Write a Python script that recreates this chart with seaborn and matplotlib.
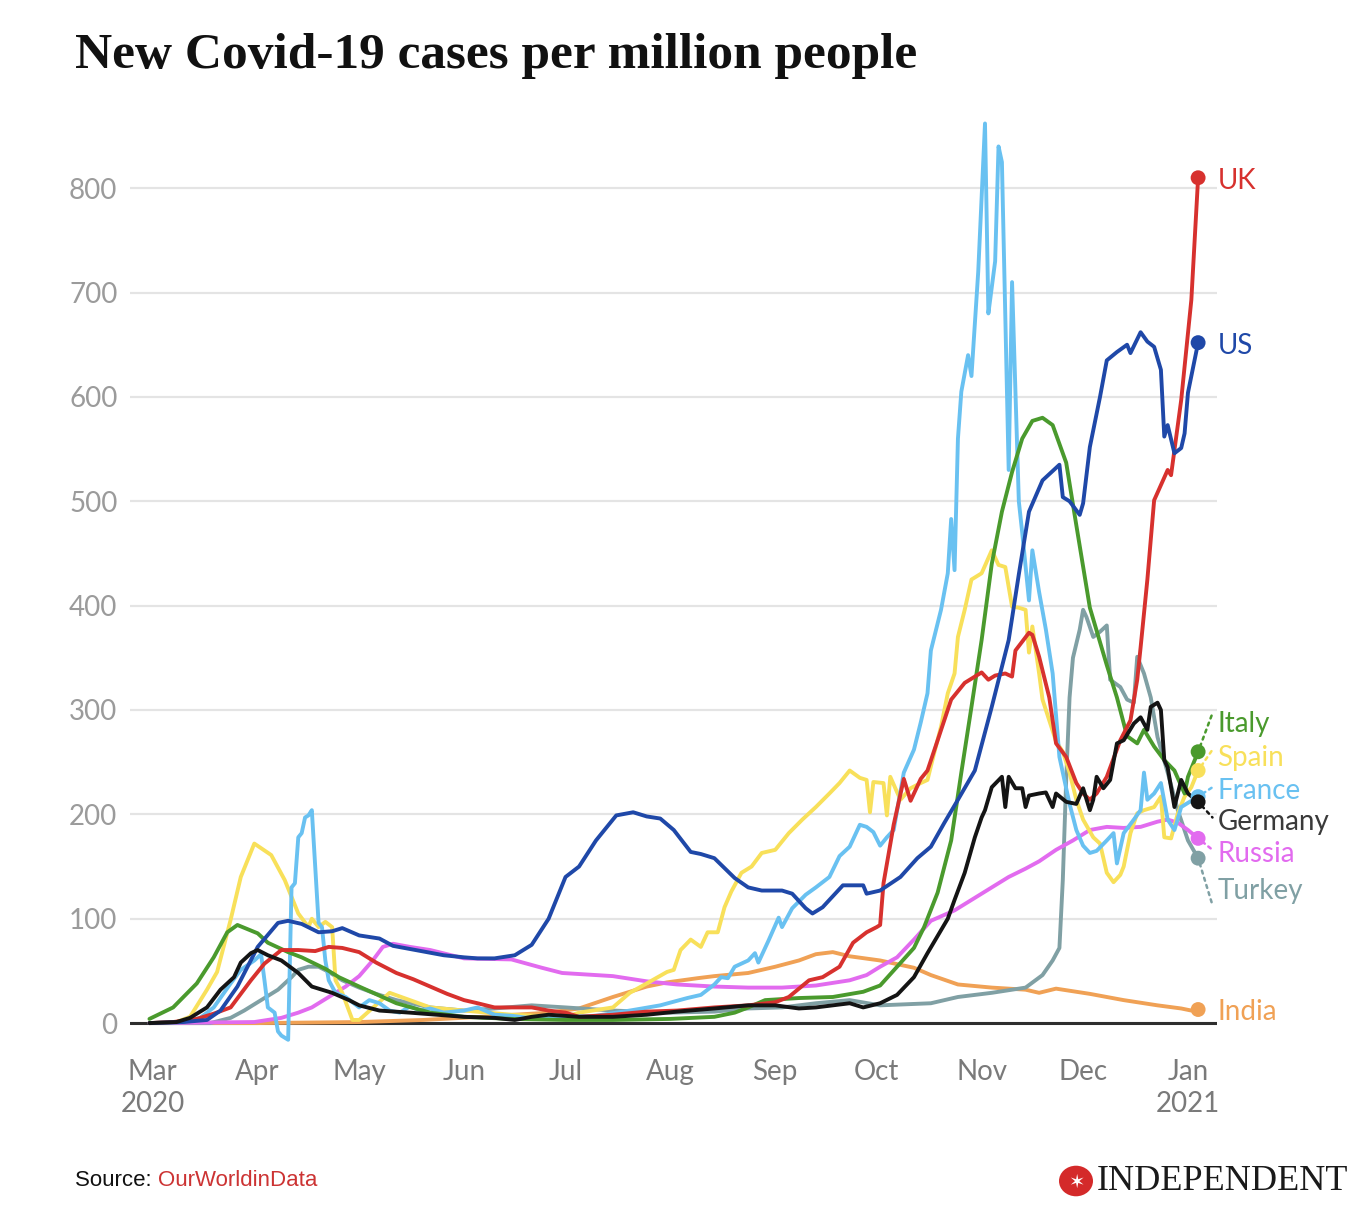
import matplotlib
matplotlib.use("Agg")
import matplotlib.pyplot as plt
import matplotlib.patches as mpatches
import seaborn as sns
import pandas as pd
import numpy as np

# ---------------- data ----------------
uk_dates = ["02-29","03-07","03-14","03-19","03-24","03-27","03-30","04-03","04-08","04-13","04-18","04-22","04-26","05-01","05-06","05-12","05-17","05-22","05-27","06-01","06-05","06-10","06-15","06-21","06-26","07-01","07-05","07-10","07-15","07-25","08-03","08-14","08-24","09-01","09-05","09-11","09-15","09-20","09-24","09-28","10-01","10-02","10-03","10-06","10-09","10-11","10-14","10-16","10-19","10-23","10-27","11-01","11-03","11-05","11-08","11-10","11-11","11-15","11-16","11-18","11-21","11-23","11-26","11-29","12-01","12-03","12-05","12-08","12-12","12-15","12-17","12-18","12-20","12-22","12-26","12-27","12-28","12-30","01-02","01-04"]
uk_vals = [0,1,4,9,15,28,41,57,70,70,69,73,72,68,58,48,42,35,28,22,19,15,15,15,12,10,6,7,8,11,12,15,17,20,25,41,44,54,77,87,92,94,134,190,234,213,234,242,271,310,326,336,329,333,335,332,357,374,372,351,312,268,255,230,220,214,220,236,271,290,329,360,425,501,530,525,549,597,693,810]

us_dates = ["02-29","03-10","03-17","03-21","03-26","04-01","04-07","04-10","04-14","04-19","04-23","04-26","05-01","05-07","05-11","05-16","05-21","05-26","06-01","06-05","06-10","06-16","06-21","06-26","07-01","07-05","07-10","07-16","07-21","07-25","07-29","08-02","08-07","08-10","08-14","08-20","08-24","08-28","09-03","09-06","09-10","09-12","09-15","09-21","09-27","09-28","10-02","10-08","10-13","10-17","10-21","10-25","10-30","11-04","11-09","11-12","11-15","11-19","11-24","11-25","11-27","11-30","12-01","12-03","12-06","12-08","12-11","12-14","12-15","12-18","12-20","12-22","12-24","12-25","12-26","12-28","12-30","12-31","01-01","01-04"]
us_vals = [0,1,3,12,35,73,96,98,95,87,88,91,84,81,74,71,68,65,63,62,62,65,75,100,140,150,175,199,202,198,196,185,164,162,158,139,130,127,127,124,110,105,111,132,132,124,127,140,158,169,192,214,242,303,367,430,490,520,535,504,500,487,498,552,600,635,643,650,642,662,653,648,626,562,573,546,551,565,604,652]

italy_dates = ["02-29","03-07","03-14","03-19","03-23","03-26","04-01","04-04","04-10","04-14","04-21","04-25","05-01","05-12","05-22","06-01","06-15","07-01","07-15","08-01","08-14","08-20","08-24","08-29","09-08","09-18","09-27","10-02","10-07","10-12","10-15","10-19","10-23","10-26","10-29","11-01","11-04","11-07","11-10","11-13","11-16","11-19","11-22","11-26","11-29","12-03","12-08","12-11","12-14","12-17","12-19","12-22","12-25","12-28","12-31","01-01","01-04"]
italy_vals = [4,15,38,63,87,94,86,77,68,63,52,44,35,19,10,6,4,3,3,4,6,10,15,22,24,25,30,36,54,72,92,125,175,240,303,367,440,490,528,560,577,580,573,537,477,398,343,312,275,268,281,265,252,242,220,236,260]

spain_dates = ["02-29","03-08","03-12","03-17","03-20","03-24","03-27","03-31","04-05","04-09","04-13","04-16","04-17","04-19","04-21","04-23","04-24","04-26","04-29","05-01","05-10","05-16","05-22","06-01","06-15","07-01","07-05","07-15","07-20","07-25","07-31","08-02","08-04","08-07","08-10","08-12","08-15","08-17","08-19","08-22","08-25","08-28","09-01","09-05","09-09","09-13","09-17","09-20","09-23","09-26","09-28","09-29","09-30","10-03","10-04","10-05","10-08","10-11","10-14","10-16","10-18","10-20","10-22","10-24","10-25","10-27","10-29","11-01","11-04","11-06","11-08","11-10","11-12","11-14","11-15","11-16","11-18","11-19","11-21","11-23","11-25","11-27","11-29","12-01","12-04","12-06","12-08","12-10","12-12","12-13","12-15","12-17","12-19","12-22","12-24","12-25","12-27","12-29","12-31","01-02","01-04"]
spain_vals = [0,1,6,32,49,99,140,172,161,137,105,92,100,92,97,92,41,29,3,3,29,22,15,12,8,6,10,15,29,38,49,51,70,80,73,87,87,111,126,144,150,163,166,182,195,207,220,230,242,235,233,202,231,230,199,236,214,225,230,233,259,284,316,335,370,396,425,431,453,439,437,399,398,396,355,380,335,310,290,270,260,240,214,195,178,172,144,135,142,150,182,201,204,207,217,178,177,201,217,226,242]

france_dates = ["02-29","03-10","03-15","03-19","03-24","03-27","03-31","04-02","04-03","04-04","04-06","04-07","04-08","04-09","04-10","04-11","04-12","04-13","04-14","04-15","04-16","04-17","04-18","04-19","04-20","04-21","04-22","04-24","04-27","05-01","05-04","05-07","05-10","05-13","05-16","05-19","05-22","05-26","06-01","06-05","06-10","06-15","06-20","07-01","07-10","07-20","07-29","08-06","08-10","08-14","08-16","08-18","08-20","08-24","08-26","08-27","08-30","09-02","09-03","09-06","09-10","09-13","09-17","09-20","09-23","09-26","09-28","09-30","10-02","10-04","10-06","10-09","10-12","10-14","10-16","10-17","10-20","10-22","10-23","10-24","10-25","10-26","10-28","10-29","10-31","11-02","11-03","11-04","11-05","11-06","11-07","11-09","11-10","11-12","11-13","11-15","11-16","11-18","11-20","11-22","11-24","11-27","11-29","12-01","12-03","12-05","12-08","12-10","12-11","12-13","12-16","12-18","12-19","12-20","12-22","12-24","12-26","12-28","12-30","01-01","01-04"]
france_vals = [0,1,5,15,38,51,60,66,41,15,10,-8,-12,-14,-16,130,134,178,182,197,199,204,150,96,92,60,41,29,25,15,22,19,12,10,16,12,14,10,12,15,8,7,5,6,7,12,17,24,27,37,44,43,54,60,67,58,79,101,92,110,123,130,140,160,169,190,188,183,170,178,185,240,262,288,316,357,396,431,483,434,560,605,640,620,720,862,680,705,730,840,825,530,710,500,470,405,453,413,377,335,255,210,185,170,163,165,175,182,153,182,195,204,240,214,220,230,195,185,207,211,217]

germany_dates = ["02-29","03-08","03-12","03-17","03-21","03-25","03-27","03-30","04-01","04-04","04-08","04-13","04-17","04-23","04-28","05-01","05-07","05-16","06-01","06-10","06-16","06-21","06-26","07-05","07-15","07-25","08-03","08-14","08-24","09-01","09-08","09-13","09-23","09-27","10-02","10-07","10-12","10-16","10-20","10-22","10-24","10-27","10-30","11-01","11-02","11-04","11-07","11-08","11-09","11-11","11-13","11-14","11-15","11-18","11-20","11-22","11-23","11-26","11-29","12-01","12-03","12-04","12-05","12-07","12-09","12-11","12-13","12-16","12-18","12-20","12-21","12-23","12-24","12-25","12-26","12-28","12-30","01-01","01-04"]
germany_vals = [0,1,5,15,32,44,58,67,70,65,60,48,35,29,22,17,12,10,6,5,3,6,8,6,6,8,11,14,17,17,14,15,19,15,19,27,44,67,89,100,118,144,178,197,204,226,236,207,236,225,225,207,218,220,221,207,220,212,210,225,204,214,236,225,233,268,271,287,293,281,303,307,300,252,245,207,233,220,212]

russia_dates = ["02-29","03-31","04-08","04-13","04-17","04-22","04-27","05-01","05-05","05-08","05-11","05-16","05-22","06-01","06-15","06-24","06-30","07-15","07-25","08-03","08-14","08-24","09-03","09-13","09-23","09-28","10-02","10-07","10-12","10-17","10-24","10-28","11-04","11-09","11-14","11-18","11-23","11-28","12-03","12-08","12-13","12-18","12-23","12-26","12-29","01-01","01-04"]
russia_vals = [0,1,5,10,15,25,35,45,60,73,76,73,70,62,61,53,48,45,40,37,35,34,34,36,41,46,54,63,80,98,108,116,130,140,148,155,166,175,185,188,187,188,193,195,192,185,177]

turkey_dates = ["02-29","03-18","03-24","03-28","04-03","04-07","04-11","04-13","04-16","04-19","04-22","04-26","05-01","05-06","05-12","05-22","06-01","06-10","06-21","07-01","07-15","08-01","08-14","08-24","09-03","09-13","09-23","10-02","10-17","10-25","11-04","11-14","11-19","11-22","11-24","11-25","11-26","11-27","11-28","11-30","12-01","12-02","12-04","12-06","12-08","12-09","12-12","12-14","12-16","12-17","12-19","12-21","12-23","12-26","12-29","01-01","01-04"]
turkey_vals = [0,0,5,12,24,32,44,51,54,54,49,41,34,28,22,15,12,14,17,15,12,10,11,14,15,19,22,17,19,25,29,34,46,60,72,137,233,312,350,377,396,389,370,375,381,329,322,310,307,351,335,312,274,240,204,175,158]

india_dates = ["02-29","04-01","05-01","05-20","06-06","06-26","07-05","07-15","07-25","07-31","08-09","08-14","08-24","09-01","09-08","09-13","09-18","09-23","10-02","10-12","10-17","10-25","11-04","11-14","11-18","11-23","12-03","12-13","12-23","12-30","01-02","01-04"]
india_vals = [0,0,1,3,6,10,14,25,35,39,43,45,48,54,60,66,68,64,60,53,46,37,34,32,29,33,28,22,17,14,12,13]

countries = ["India","Turkey","Russia","Spain","France","Italy","UK","US","Germany"]
series = {
    "UK": (uk_dates, uk_vals), "US": (us_dates, us_vals), "Italy": (italy_dates, italy_vals),
    "Spain": (spain_dates, spain_vals), "France": (france_dates, france_vals),
    "Germany": (germany_dates, germany_vals), "Russia": (russia_dates, russia_vals),
    "Turkey": (turkey_dates, turkey_vals), "India": (india_dates, india_vals),
}
colors = {"UK": "#d7312e", "US": "#1f48a8", "Italy": "#4a9a2d", "Spain": "#f8e05a",
          "France": "#69c1f1", "Germany": "#141414", "Russia": "#e26bef",
          "Turkey": "#80a0a4", "India": "#f0a155"}
label_colors = dict(colors, Germany="#3a3a3a")
# label vertical positions (value units), and where the dotted leader ends
label_y = {"UK": 807, "US": 649, "Italy": 287, "Spain": 254, "France": 222,
           "Germany": 193, "Russia": 162, "Turkey": 127, "India": 11}
leader_end = {"Italy": 297, "Spain": 262, "France": 226, "Germany": 197,
              "Russia": 166, "Turkey": 113}

month_ticks = ["2020-03-01","2020-04-01","2020-05-01","2020-06-01","2020-07-01","2020-08-01",
               "2020-09-01","2020-10-01","2020-11-01","2020-12-01","2021-01-01"]
month_labels = ["Mar\n2020","Apr","May","Jun","Jul","Aug","Sep","Oct","Nov","Dec","Jan\n2021"]
y_ticks = [0, 100, 200, 300, 400, 500, 600, 700, 800]

def to_date(md):
    year = "2021" if md.startswith("01-") else "2020"
    return pd.Timestamp(f"{year}-{md}")

rows = []
for c in countries:
    d, v = series[c]
    for a, b in zip(d, v):
        rows.append((to_date(a), b, c))
df = pd.DataFrame(rows, columns=["date", "value", "country"])
last = df.groupby("country", sort=False).tail(1)

# ---------------- figure ----------------
sns.set_theme(style="white")
plt.rcParams["font.family"] = ["Lato", "DejaVu Sans"]

W, H = 1354, 1218
fig = plt.figure(figsize=(W / 100, H / 100), dpi=100)
fig.patch.set_facecolor("white")
ax = fig.add_axes([130 / W, 1 - 1045 / H, (1217 - 130) / W, (1045 - 100) / H])

sns.lineplot(data=df, x="date", y="value", hue="country", hue_order=countries,
             palette=colors, linewidth=2.8, estimator=None, sort=True,
             legend=False, ax=ax, zorder=3)
sns.scatterplot(data=last, x="date", y="value", hue="country", hue_order=countries,
                palette=colors, s=115, linewidth=0, legend=False, ax=ax, zorder=5)

ax.set_xlim(pd.Timestamp("2020-02-23 06:00"), pd.Timestamp("2021-01-09 14:00"))
ax.set_ylim(-21, 884.5)
ax.set_yticks(y_ticks)
ax.set_yticklabels([str(t) for t in y_ticks])
ax.set_xticks([pd.Timestamp(t) for t in month_ticks])
ax.set_xticklabels(month_labels, linespacing=1.3)
ax.set_xlabel("")
ax.set_ylabel("")
ax.grid(axis="y", color="#e4e4e4", linewidth=1.6, zorder=0)
ax.grid(axis="x", visible=False)
ax.axhline(0, color="#2e2e2e", linewidth=2.2, zorder=2)
for s in ax.spines.values():
    s.set_visible(False)
ax.tick_params(axis="y", length=0, pad=9, labelsize=20, labelcolor="#9b9b9b")
ax.tick_params(axis="x", length=0, pad=10, labelsize=20, labelcolor="#7a7a7a")

# end labels
lab_x = pd.Timestamp("2021-01-09 18:00")
lead_x = pd.Timestamp("2021-01-08 06:00")
for c in countries:
    row = last[last.country == c].iloc[0]
    ax.text(lab_x, label_y[c], c, color=label_colors[c], fontsize=20,
            va="center", ha="left", zorder=6)
    if c in leader_end:
        ax.annotate("", xy=(lead_x, leader_end[c]), xytext=(row.date, row.value),
                    arrowprops=dict(arrowstyle="-", linestyle=(0, (1.2, 1.8)), lw=1.8,
                                    color=colors[c], shrinkA=4, shrinkB=0), zorder=4)

# title
fig.text(75 / W, 1 - 33 / H, "New Covid-19 cases per million people",
         fontsize=37, fontweight="bold", family=["Liberation Serif", "DejaVu Serif"],
         color="#111111", ha="left", va="top")

# source line
src_font = ["Liberation Sans Narrow", "Liberation Sans", "DejaVu Sans"]
src = fig.text(75 / W, 1 - 1181 / H, "Source: ", fontsize=16, family=src_font,
               color="#111111", ha="left", va="center")
fig.canvas.draw()
bb = src.get_window_extent()
fig.text(bb.x1 / W, 1 - 1181 / H, "OurWorldinData", fontsize=16, family=src_font,
         color="#cc3333", ha="left", va="center")

# Independent logo
circ = mpatches.Circle((1076 / W, 1 - 1181 / H), 17 / W, transform=fig.transFigure,
                       facecolor="#d42a2a", edgecolor="none")
fig.patches.append(circ)
fig.text(1076 / W, 1 - 1182 / H, "\u2736", fontsize=14, color="white",
         ha="center", va="center", family=["DejaVu Sans"])
fig.text(1097 / W, 1 - 1181 / H, "INDEPENDENT", fontsize=26,
         family=["Liberation Serif", "DejaVu Serif"], color="#1a1a1a",
         ha="left", va="center")

fig.savefig("out.png", dpi=100, facecolor="white")
